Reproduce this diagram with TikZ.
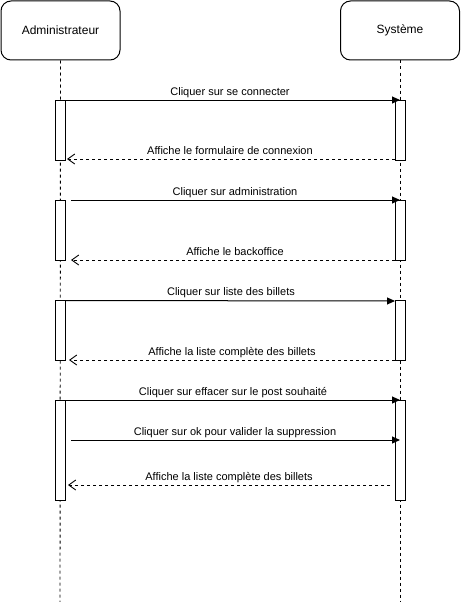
\documentclass[tikz,border=0pt]{standalone}
\usepackage{fontspec}
\setmainfont{Liberation Sans}
\usetikzlibrary{arrows.meta}
\begin{document}
\begin{tikzpicture}[x=1pt,y=-1pt,
  actor/.style={draw, rounded corners=10pt, minimum width=119pt, minimum height=59pt, inner sep=0pt, line width=1pt, font=\fontsize{12}{14}\selectfont},
  actbox/.style={draw, fill=white, minimum width=10pt, inner sep=0pt, line width=1pt},
  life/.style={line width=0.9pt, dash pattern=on 3pt off 3pt},
  msg/.style={line width=1pt, -{Triangle[length=8pt,width=7pt]}},
  ret/.style={line width=0.9pt, dash pattern=on 3pt off 3pt, -{Straight Barb[length=7pt,width=10pt,line width=0.9pt]}},
  lbl/.style={anchor=base, inner sep=0pt, yshift=5pt, font=\fontsize{11}{13}\selectfont}]
\useasboundingbox (0,0) rectangle (461,602);
% actors
\node[actor] (A) at (60.5,30.5) {Administrateur};
\node[actor] (S) at (400,30.5) {Système};
\coordinate (Aend) at (60,602);
\coordinate (Send) at (400,602);
\draw[life] (A.south) -- (Aend);
\draw[life] (S.south) -- (Send);
% activations
\node[actbox, minimum height=60pt] (a1) at (60,130) {};
\node[actbox, minimum height=60pt] (s1) at (400,130) {};
\node[actbox, minimum height=60pt] (a2) at (60,230) {};
\node[actbox, minimum height=60pt] (s2) at (400,230) {};
\node[actbox, minimum height=60pt] (a3) at (60,330) {};
\node[actbox, minimum height=60pt] (s3) at (400,330) {};
\node[actbox, minimum height=100pt] (a4) at (60,450) {};
\node[actbox, minimum height=100pt] (s4) at (400,450) {};
% message end points
\coordinate (m1a) at (65,100);   \coordinate (m1b) at (400,100);
\coordinate (r1a) at (395,159);  \coordinate (r1b) at (67,159);
\coordinate (m2a) at (71,200);   \coordinate (m2b) at (400,200);
\coordinate (r2a) at (395,260);  \coordinate (r2b) at (71,260);
\coordinate (m3a) at (65,300.5); \coordinate (m3b) at (395,301);
\coordinate (r3a) at (395,360);  \coordinate (r3b) at (69,360);
\coordinate (m4a) at (65,400);   \coordinate (m4b) at (400,400);
\coordinate (m5a) at (71,440);   \coordinate (m5b) at (400,440);
\coordinate (r5a) at (390,485);  \coordinate (r5b) at (68,485);
% messages
\draw[msg] (m1a) -- (m1b);
\node[lbl] (t1) at (230,100) {Cliquer sur se connecter};
\draw[ret] (r1a) -- (r1b);
\node[lbl] (t2) at (230,159) {Affiche le formulaire de connexion};
\draw[msg] (m2a) -- (m2b);
\node[lbl] (t3) at (235,200) {Cliquer sur administration};
\draw[ret] (r2a) -- (r2b);
\node[lbl] (t4) at (235,260) {Affiche le backoffice};
\draw[msg] (m3a) -- (m3b);
\node[lbl] (t5) at (231,300.5) {Cliquer sur liste des billets};
\draw[ret] (r3a) -- (r3b);
\node[lbl] (t6) at (232,360) {Affiche la liste complète des billets};
\draw[msg] (m4a) -- (m4b);
\node[lbl] (t7) at (233,400) {Cliquer sur effacer sur le post souhaité};
\draw[msg] (m5a) -- (m5b);
\node[lbl] (t8) at (235,440) {Cliquer sur ok pour valider la suppression};
\draw[ret] (r5a) -- (r5b);
\node[lbl] (t9) at (229,485) {Affiche la liste complète des billets};
\end{tikzpicture}
\end{document}
